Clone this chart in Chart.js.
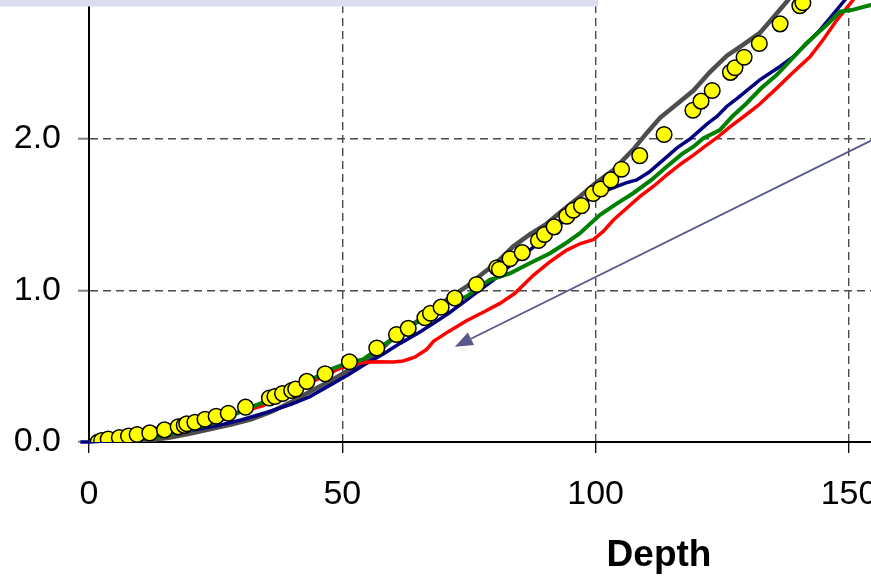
<!DOCTYPE html>
<html>
<head>
<meta charset="utf-8">
<script src="https://cdn.jsdelivr.net/npm/chart.js@4.4.1/dist/chart.umd.min.js"></script>
<style>
  html, body { margin: 0; padding: 0; width: 871px; height: 579px; overflow: hidden; background: #fff; }
  #wrap { position: absolute; left: 0; top: -174px; width: 1240px; height: 760px; }
</style>
</head>
<body>
<div id="wrap"><canvas id="c" width="1240" height="760"></canvas></div>
<script>
// Measured points (yellow markers)
const dotDepth = [1.8,2.5,3.8,6.0,7.8,9.5,12.0,14.9,17.6,18.8,19.3,20.9,22.9,25.1,27.5,30.9,35.6,36.7,38.2,40.0,40.8,43.0,46.6,51.4,56.8,60.7,63.0,66.3,67.4,69.5,72.2,76.5,80.5,81.0,83.1,85.5,88.7,89.9,91.8,94.3,95.6,97.2,99.5,101.0,103.0,105.1,108.7,113.5,119.2,120.8,123.0,126.6,127.5,129.3,132.3,136.4,140.3,140.9];
const dotValue = [0.00,0.01,0.02,0.03,0.04,0.05,0.06,0.08,0.10,0.11,0.12,0.13,0.15,0.17,0.19,0.23,0.29,0.30,0.32,0.34,0.35,0.40,0.45,0.53,0.62,0.71,0.75,0.82,0.85,0.89,0.95,1.04,1.15,1.14,1.21,1.25,1.33,1.37,1.42,1.49,1.53,1.56,1.64,1.67,1.73,1.80,1.89,2.03,2.19,2.25,2.32,2.44,2.47,2.54,2.63,2.76,2.88,2.90];

// Curves
const grayDepth = [8,12,16,20,24,28,32,36,40,44,48,50,53,57,61,65,68,71,74.5,78,80,83.7,87,90.3,93.5,96.9,100,103.5,107.4,110.1,112.7,116,119.3,122.5,125.9,129,132.4,135,137.7,139];
const grayValue = [0,0.012,0.03,0.055,0.085,0.115,0.15,0.2,0.265,0.34,0.41,0.45,0.51,0.59,0.72,0.8,0.87,0.95,1.025,1.12,1.17,1.29,1.37,1.44,1.53,1.62,1.71,1.795,1.93,2.04,2.14,2.23,2.32,2.44,2.55,2.62,2.7,2.8,2.906,2.96];

const navyDepth = [-1.7,0,5,10,15,20,25,30,35,40,43.6,48.2,51,54.8,58,61.4,65,68,71,74.5,77,79.8,83,87,90,93,96,99,102.8,106,108.1,110.5,113.3,116,118.6,122,124,125.8,128,132.4,136,139,142,144.3,148.9,150];
const navyValue = [0,0,0.01,0.03,0.05,0.075,0.105,0.145,0.195,0.25,0.30,0.387,0.44,0.519,0.58,0.651,0.72,0.783,0.85,0.937,1.0,1.069,1.16,1.267,1.35,1.44,1.53,1.61,1.67,1.71,1.73,1.78,1.861,1.94,2.0,2.1,2.15,2.213,2.27,2.39,2.47,2.543,2.64,2.72,2.906,2.95];

const greenDepth = [0,5,10,15,20,25,30,33,38,42.8,44.9,48.2,51,54.1,58.1,61,65.3,68,71,74.5,77,79.1,81,83.1,87,91,94,96.9,100.8,104,107.4,111,114,117,119.3,121.2,124.5,127,129.8,132.5,135.7,138.5,141.6,143.5,145.6,148.2,150.5,154.3,156];
const greenValue = [0,0.005,0.02,0.045,0.08,0.13,0.2,0.244,0.31,0.40,0.43,0.486,0.52,0.545,0.64,0.70,0.805,0.86,0.92,0.96,1.02,1.07,1.09,1.113,1.18,1.246,1.31,1.378,1.498,1.57,1.642,1.73,1.817,1.9,1.949,2.004,2.059,2.15,2.236,2.33,2.422,2.52,2.632,2.69,2.752,2.84,2.851,2.884,2.895];

const redDepth = [0,5,10,15,20,24,27.2,30,34.4,37,40.3,43,46,49.5,52.2,54.1,57,60.1,62,64.3,66.6,68,71,74.5,78,81.1,84,87.7,91,94.3,97,99.5,101.5,103.5,106,108.7,111.5,114,117,119.3,121.5,124,126.5,129.5,132,135.7,139,142.3,145,147.6,150.8,152];
const redValue = [0,0.005,0.02,0.045,0.08,0.13,0.178,0.2,0.24,0.29,0.343,0.38,0.43,0.486,0.508,0.525,0.53,0.528,0.535,0.56,0.61,0.665,0.73,0.8,0.86,0.915,0.98,1.1,1.19,1.267,1.31,1.335,1.39,1.465,1.54,1.619,1.69,1.762,1.84,1.894,1.95,2.01,2.08,2.155,2.22,2.334,2.44,2.543,2.66,2.785,2.917,2.98];

// Axis ticks
const depthTicks = [0, 50, 100, 150, 200];
const valueTicks = [0, 1, 2, 3, 4];
const depthTickLabels = ['0', '50', '100', '150', '200'];
const valueTickLabels = ['0.0', '1.0', '2.0', '3.0', '4.0'];

// Pointer arrow (data coordinates, tail -> tip)
const arrowTail = { x: 165, y: 2.166 };
const arrowTip = { x: 72.2, y: 0.629 };

const FONT = "'Liberation Sans', Arial, sans-serif";
Chart.defaults.font.family = FONT;
Chart.defaults.color = '#000';

const pairs = (xs, ys) => xs.map((x, i) => ({ x, y: ys[i] }));

const curve = (xs, ys, color, width, order, extra) => Object.assign({
  data: pairs(xs, ys),
  showLine: true,
  borderColor: color,
  backgroundColor: color,
  borderWidth: width,
  pointRadius: 0,
  pointHoverRadius: 0,
  tension: 0,
  fill: false,
  order
}, extra || {});

const arrowPlugin = {
  id: 'pointerArrow',
  afterDatasetsDraw(chart) {
    const { ctx, scales: { x, y } } = chart;
    const x1 = x.getPixelForValue(arrowTail.x), y1 = y.getPixelForValue(arrowTail.y);
    const x2 = x.getPixelForValue(arrowTip.x), y2 = y.getPixelForValue(arrowTip.y);
    const ang = Math.atan2(y2 - y1, x2 - x1);
    const headLen = 18, headHalf = 7;
    const bx = x2 - headLen * Math.cos(ang), by = y2 - headLen * Math.sin(ang);
    ctx.save();
    ctx.strokeStyle = '#58588a';
    ctx.fillStyle = '#58588a';
    ctx.lineWidth = 1.8;
    ctx.beginPath();
    ctx.moveTo(x1, y1);
    ctx.lineTo(bx, by);
    ctx.stroke();
    ctx.beginPath();
    ctx.moveTo(x2, y2);
    ctx.lineTo(bx + headHalf * Math.sin(ang), by - headHalf * Math.cos(ang));
    ctx.lineTo(bx - headHalf * Math.sin(ang), by + headHalf * Math.cos(ang));
    ctx.closePath();
    ctx.fill();
    ctx.restore();
  }
};

// Key panel sitting over the top-left of the plot
const panelPlugin = {
  id: 'keyPanel',
  afterDraw(chart) {
    const { ctx } = chart;
    ctx.save();
    ctx.fillStyle = '#dcdcf2';
    ctx.fillRect(0, 0, 598, 180.5);
    ctx.restore();
  }
};

new Chart(document.getElementById('c'), {
  type: 'scatter',
  data: {
    datasets: [
      {
        label: 'Measured',
        data: pairs(dotDepth, dotValue),
        showLine: false,
        pointRadius: 7.8,
        pointHoverRadius: 7.8,
        pointBackgroundColor: '#ffff00',
        pointBorderColor: '#000000',
        pointBorderWidth: 1.5,
        order: 0
      },
      curve(greenDepth, greenValue, '#008000', 4, 1),
      curve(redDepth, redValue, '#ff0000', 3.5, 2),
      curve(navyDepth, navyValue, '#000080', 3.5, 3, { clip: false }),
      curve(grayDepth, grayValue, '#4d4d4d', 4.5, 4)
    ]
  },
  options: {
    responsive: false,
    animation: false,
    devicePixelRatio: 1,
    layout: { padding: { top: 10, left: 0, right: 11, bottom: 0 } },
    plugins: { legend: { display: false }, tooltip: { enabled: false } },
    scales: {
      x: {
        type: 'linear',
        min: 0,
        max: 225,
        afterFit(s) { s.height = 144; s.paddingLeft = 0; s.paddingRight = 0; },
        afterBuildTicks(s) { s.ticks = depthTicks.map(v => ({ value: v })); },
        ticks: {
          padding: 21,
          maxRotation: 0,
          autoSkip: false,
          font: { size: 34 },
          color: '#000',
          callback: (v) => depthTickLabels[depthTicks.indexOf(v)]
        },
        grid: { color: '#4a4a4a', lineWidth: 1.4, tickLength: 11, tickColor: '#000', tickWidth: 1.3 },
        border: { display: true, color: '#000', width: 2, dash: [8, 5] },
        title: {
          display: true,
          text: 'Depth',
          color: '#000',
          font: { size: 37, weight: 'bold' },
          padding: { top: 0, bottom: 8 }
        }
      },
      y: {
        type: 'linear',
        min: 0,
        max: 4,
        afterFit(s) { s.width = 89; s.paddingTop = 0; s.paddingBottom = 0; },
        afterBuildTicks(s) { s.ticks = valueTicks.map(v => ({ value: v })); },
        ticks: {
          padding: 17,
          font: { size: 34 },
          color: '#000',
          callback: (v) => valueTickLabels[valueTicks.indexOf(v)]
        },
        grid: { color: '#4a4a4a', lineWidth: 1.4, tickLength: 11, tickColor: '#808080', tickWidth: 2 },
        border: { display: true, color: '#000', width: 2, dash: [8, 5] }
      }
    }
  },
  plugins: [arrowPlugin, panelPlugin]
});
</script>
</body>
</html>
